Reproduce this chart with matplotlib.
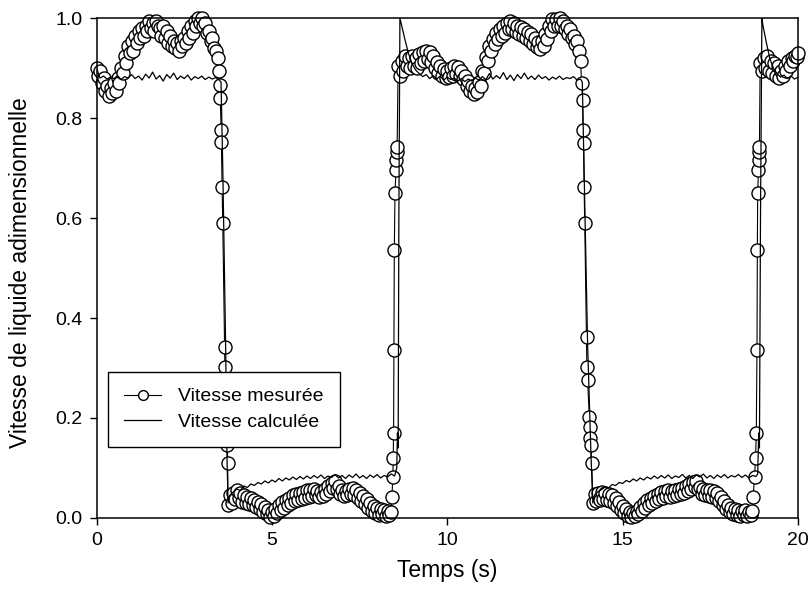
import matplotlib
matplotlib.use("Agg")
import matplotlib.pyplot as plt

plt.rcParams['font.family'] = ['Liberation Sans', 'DejaVu Sans']

# Vitesse mesurée (cercles)
t_mes = [0.00, 0.05, 0.10, 0.15, 0.20, 0.25, 0.30, 0.35, 0.40, 0.45, 0.50, 0.55, 0.60, 0.65, 0.70, 0.75,
         0.80, 0.85, 0.90, 0.95, 1.00, 1.05, 1.10, 1.15, 1.20, 1.25, 1.30, 1.35, 1.40, 1.45, 1.50, 1.55,
         1.60, 1.65, 1.70, 1.75, 1.80, 1.85, 1.90, 1.95, 2.00, 2.05, 2.10, 2.15, 2.20, 2.25, 2.30, 2.35,
         2.40, 2.45, 2.50, 2.55, 2.60, 2.65, 2.70, 2.75, 2.80, 2.85, 2.90, 2.95, 3.00, 3.05, 3.10, 3.15,
         3.20, 3.25, 3.30, 3.35, 3.40, 3.45, 3.50,
         3.52, 3.53, 3.55, 3.56, 3.58, 3.60, 3.65, 3.66, 3.68, 3.70, 3.71, 3.72, 3.73, 3.74,
         3.75, 3.80, 3.85, 3.90, 3.95, 4.00, 4.05, 4.10, 4.15, 4.20, 4.25, 4.30, 4.35, 4.40, 4.45, 4.50,
         4.55, 4.60, 4.65, 4.70, 4.75, 4.80, 4.85, 4.90, 4.95, 5.00, 5.05, 5.10, 5.15, 5.20, 5.25, 5.30,
         5.35, 5.40, 5.45, 5.50, 5.55, 5.60, 5.65, 5.70, 5.75, 5.80, 5.85, 5.90, 5.95, 6.00, 6.05, 6.10,
         6.15, 6.20, 6.25, 6.30, 6.35, 6.40, 6.45, 6.50, 6.55, 6.60, 6.65, 6.70, 6.75, 6.80, 6.85, 6.90,
         6.95, 7.00, 7.05, 7.10, 7.15, 7.20, 7.25, 7.30, 7.35, 7.40, 7.45, 7.50, 7.55, 7.60, 7.65, 7.70,
         7.75, 7.80, 7.85, 7.90, 7.95, 8.00, 8.05, 8.10, 8.15, 8.20, 8.25, 8.30, 8.35, 8.40,
         8.42, 8.45, 8.46, 8.47, 8.48, 8.49, 8.51, 8.54, 8.55, 8.56, 8.57,
         8.60, 8.65, 8.70, 8.75, 8.80, 8.85, 8.90, 8.95, 9.00, 9.05, 9.10, 9.15, 9.20, 9.25, 9.30, 9.35,
         9.40, 9.45, 9.50, 9.55, 9.60, 9.65, 9.70, 9.75, 9.80, 9.85, 9.90, 9.95, 10.00, 10.05, 10.10,
         10.15, 10.20, 10.25, 10.30, 10.35, 10.40, 10.45, 10.50, 10.55, 10.60, 10.65, 10.70, 10.75,
         10.80, 10.85, 10.90, 10.95, 11.00, 11.05, 11.10, 11.15, 11.20, 11.25, 11.30, 11.35, 11.40,
         11.45, 11.50, 11.55, 11.60, 11.65, 11.70, 11.75, 11.80, 11.85, 11.90, 11.95, 12.00, 12.05,
         12.10, 12.15, 12.20, 12.25, 12.30, 12.35, 12.40, 12.45, 12.50, 12.55, 12.60, 12.65, 12.70,
         12.75, 12.80, 12.85, 12.90, 12.95, 13.00, 13.05, 13.10, 13.15, 13.20, 13.25, 13.30, 13.35,
         13.40, 13.45, 13.50, 13.55, 13.60, 13.65, 13.70, 13.75, 13.80,
         13.83, 13.86, 13.87, 13.89, 13.90, 13.92, 13.97, 13.98, 14.00, 14.05, 14.06, 14.08, 14.09, 14.12,
         14.15, 14.20, 14.25, 14.30, 14.35, 14.40, 14.45, 14.50, 14.55, 14.60, 14.65, 14.70, 14.75,
         14.80, 14.85, 14.90, 14.95, 15.00, 15.05, 15.10, 15.15, 15.20, 15.25, 15.30, 15.35, 15.40,
         15.45, 15.50, 15.55, 15.60, 15.65, 15.70, 15.75, 15.80, 15.85, 15.90, 15.95, 16.00, 16.05,
         16.10, 16.15, 16.20, 16.25, 16.30, 16.35, 16.40, 16.45, 16.50, 16.55, 16.60, 16.65, 16.70,
         16.75, 16.80, 16.85, 16.90, 16.95, 17.00, 17.05, 17.10, 17.15, 17.20, 17.25, 17.30, 17.35,
         17.40, 17.45, 17.50, 17.55, 17.60, 17.65, 17.70, 17.75, 17.80, 17.85, 17.90, 17.95, 18.00,
         18.05, 18.10, 18.15, 18.20, 18.25, 18.30, 18.35, 18.40, 18.45, 18.50, 18.55, 18.60, 18.65, 18.70,
         18.72, 18.76, 18.79, 18.81, 18.83, 18.84, 18.85, 18.87, 18.88, 18.89, 18.90,
         18.92, 18.97, 19.02, 19.07, 19.12, 19.17, 19.22, 19.27, 19.32, 19.37, 19.42, 19.47, 19.52,
         19.57, 19.62, 19.67, 19.72, 19.77, 19.82, 19.87, 19.92, 19.97, 20.00]

v_mes = [0.900, 0.885, 0.895, 0.870, 0.880, 0.855, 0.865, 0.845, 0.860, 0.850, 0.870, 0.855, 0.880, 0.870,
         0.900, 0.890, 0.925, 0.910, 0.945, 0.930, 0.955, 0.935, 0.965, 0.950, 0.975, 0.960, 0.980, 0.965,
         0.985, 0.975, 0.995, 0.980, 0.990, 0.975, 0.995, 0.985, 0.980, 0.965, 0.985, 0.960, 0.975, 0.950,
         0.965, 0.945, 0.955, 0.940, 0.950, 0.935, 0.955, 0.945, 0.960, 0.950, 0.975, 0.960, 0.985, 0.970,
         0.995, 0.985, 1.000, 0.990, 1.000, 0.985, 0.990, 0.970, 0.975, 0.955, 0.960, 0.940, 0.935, 0.920,
         0.895,
         0.866, 0.840, 0.776, 0.752, 0.662, 0.590, 0.342, 0.302, 0.276, 0.202, 0.182, 0.160, 0.146, 0.110,
         0.025, 0.045, 0.030, 0.050, 0.038, 0.055, 0.040, 0.050, 0.032, 0.045, 0.030, 0.042, 0.028, 0.040,
         0.025, 0.036, 0.022, 0.032, 0.018, 0.028, 0.012, 0.022, 0.008, 0.016, 0.002, 0.012, 0.004, 0.018,
         0.010, 0.026, 0.016, 0.032, 0.020, 0.036, 0.026, 0.040, 0.030, 0.046, 0.034, 0.048, 0.036, 0.050,
         0.038, 0.052, 0.040, 0.055, 0.042, 0.056, 0.044, 0.058, 0.046, 0.054, 0.042, 0.052, 0.044, 0.058,
         0.048, 0.064, 0.054, 0.070, 0.060, 0.074, 0.058, 0.064, 0.048, 0.056, 0.044, 0.054, 0.046, 0.058,
         0.048, 0.060, 0.046, 0.056, 0.040, 0.050, 0.034, 0.044, 0.028, 0.038, 0.020, 0.030, 0.014, 0.024,
         0.010, 0.020, 0.006, 0.018, 0.008, 0.016, 0.004, 0.014, 0.006, 0.012,
         0.042, 0.082, 0.120, 0.170, 0.336, 0.536, 0.650, 0.696, 0.716, 0.732, 0.742,
         0.905, 0.885, 0.915, 0.895, 0.925, 0.905, 0.920, 0.900, 0.925, 0.905, 0.920, 0.900, 0.928, 0.910,
         0.932, 0.915, 0.935, 0.918, 0.932, 0.912, 0.925, 0.900, 0.912, 0.890, 0.905, 0.885, 0.898, 0.880,
         0.895, 0.882, 0.900, 0.885, 0.905, 0.888, 0.902, 0.885, 0.895, 0.878, 0.885, 0.865, 0.875, 0.855,
         0.865, 0.848, 0.860, 0.852, 0.872, 0.865, 0.895, 0.890, 0.922, 0.915, 0.945, 0.935, 0.958, 0.948,
         0.970, 0.958, 0.978, 0.965, 0.985, 0.970, 0.990, 0.978, 0.995, 0.978, 0.990, 0.972, 0.985, 0.968,
         0.982, 0.965, 0.978, 0.960, 0.972, 0.955, 0.968, 0.948, 0.960, 0.942, 0.952, 0.938, 0.955, 0.945,
         0.968, 0.958, 0.985, 0.975, 0.998, 0.985, 0.998, 0.985, 1.000, 0.985, 0.995, 0.978, 0.985, 0.968,
         0.978, 0.960, 0.965, 0.948, 0.955, 0.935, 0.915,
         0.870, 0.836, 0.776, 0.750, 0.662, 0.590, 0.362, 0.302, 0.276, 0.202, 0.182, 0.160, 0.146, 0.110,
         0.030, 0.048, 0.034, 0.050, 0.036, 0.052, 0.038, 0.050, 0.036, 0.048, 0.034, 0.045, 0.030, 0.040,
         0.024, 0.032, 0.016, 0.024, 0.010, 0.018, 0.004, 0.012, 0.002, 0.010, 0.004, 0.014, 0.008, 0.022,
         0.014, 0.030, 0.020, 0.036, 0.026, 0.040, 0.030, 0.044, 0.034, 0.048, 0.038, 0.052, 0.040, 0.054,
         0.044, 0.056, 0.042, 0.054, 0.044, 0.056, 0.046, 0.058, 0.048, 0.060, 0.050, 0.064, 0.054, 0.068,
         0.058, 0.072, 0.062, 0.074, 0.058, 0.062, 0.048, 0.058, 0.046, 0.056, 0.044, 0.056, 0.042, 0.054,
         0.040, 0.050, 0.034, 0.042, 0.026, 0.034, 0.018, 0.026, 0.012, 0.020, 0.008, 0.018, 0.006, 0.016,
         0.004, 0.014, 0.006, 0.016, 0.004, 0.012, 0.006, 0.014,
         0.042, 0.082, 0.120, 0.170, 0.336, 0.536, 0.650, 0.696, 0.716, 0.732, 0.742,
         0.910, 0.895, 0.920, 0.900, 0.925, 0.895, 0.915, 0.890, 0.910, 0.885, 0.905, 0.880, 0.895, 0.885,
         0.905, 0.895, 0.915, 0.905, 0.920, 0.915, 0.925, 0.922, 0.930]

# Vitesse calculée (trait)
t_calc = [0.0, 0.1, 0.2, 0.3, 0.4, 0.5, 0.6, 0.7, 0.8, 0.9, 1.0, 1.1, 1.2, 1.3, 1.4, 1.5, 1.6, 1.7,
          1.8, 1.9, 2.0, 2.1, 2.2, 2.3, 2.4, 2.5, 2.6, 2.7, 2.8, 2.9, 3.0, 3.1, 3.2, 3.3, 3.4, 3.5, 3.55,
          3.60, 3.68, 3.72, 3.75,
          3.8, 3.9, 4.0, 4.1, 4.2, 4.3, 4.4, 4.5, 4.6, 4.7, 4.8, 4.9, 5.0, 5.1, 5.2, 5.3, 5.4, 5.5, 5.6,
          5.7, 5.8, 5.9, 6.0, 6.1, 6.2, 6.3, 6.4, 6.5, 6.6, 6.7, 6.8, 6.9, 7.0, 7.1, 7.2, 7.3, 7.4, 7.5,
          7.6, 7.7, 7.8, 7.9, 8.0, 8.1, 8.2, 8.3, 8.4, 8.5,
          8.56, 8.58, 8.60, 8.62, 8.65, 8.7, 8.8, 8.9, 9.0, 9.1,
          9.2, 9.3, 9.4, 9.5, 9.6, 9.7, 9.8, 9.9, 10.0, 10.1, 10.2, 10.3, 10.4, 10.5, 10.6, 10.7, 10.8,
          10.9, 11.0, 11.1, 11.2, 11.3, 11.4, 11.5, 11.6, 11.7, 11.8, 11.9, 12.0, 12.1, 12.2, 12.3, 12.4,
          12.5, 12.6, 12.7, 12.8, 12.9, 13.0, 13.1, 13.2, 13.3, 13.4, 13.5, 13.6, 13.7, 13.8, 13.85,
          13.90, 14.00, 14.10, 14.15,
          14.2, 14.3, 14.4, 14.5, 14.6, 14.7, 14.8, 14.9, 15.0, 15.1, 15.2, 15.3, 15.4, 15.5, 15.6, 15.7,
          15.8, 15.9, 16.0, 16.1, 16.2, 16.3, 16.4, 16.5, 16.6, 16.7, 16.8, 16.9, 17.0, 17.1, 17.2, 17.3,
          17.4, 17.5, 17.6, 17.7, 17.8, 17.9, 18.0, 18.1, 18.2, 18.3, 18.4, 18.5, 18.6, 18.7, 18.8, 18.85,
          18.88, 18.90, 18.93, 18.97, 19.0, 19.1, 19.2, 19.3, 19.4,
          19.5, 19.6, 19.7, 19.8, 19.9, 20.0]

v_calc = [0.900, 0.880, 0.884, 0.878, 0.882, 0.879, 0.885, 0.877, 0.883, 0.880, 0.887, 0.879, 0.884,
          0.876, 0.888, 0.880, 0.892, 0.878, 0.885, 0.874, 0.887, 0.880, 0.890, 0.877, 0.884, 0.879,
          0.886, 0.876, 0.883, 0.879, 0.884, 0.877, 0.882, 0.878, 0.881, 0.876, 0.872,
          0.700, 0.350, 0.120, 0.030,
          0.045, 0.052, 0.058, 0.055, 0.064, 0.061, 0.068, 0.065, 0.071, 0.068, 0.074, 0.070, 0.076,
          0.072, 0.079, 0.074, 0.080, 0.076, 0.082, 0.077, 0.083, 0.078, 0.084, 0.079, 0.085, 0.080,
          0.086, 0.079, 0.084, 0.081, 0.087, 0.080, 0.085, 0.079, 0.086, 0.081, 0.088, 0.080, 0.085,
          0.079, 0.086, 0.081, 0.087, 0.080, 0.085, 0.082, 0.088, 0.084,
          0.100, 0.170, 0.140, 0.600, 1.000, 0.985, 0.955, 0.928, 0.908, 0.896,
          0.889, 0.883, 0.887, 0.879, 0.885, 0.878, 0.884, 0.876, 0.882, 0.877, 0.880, 0.874, 0.879,
          0.873, 0.878, 0.874, 0.880, 0.876, 0.883, 0.877, 0.889, 0.878, 0.885, 0.879, 0.891, 0.877,
          0.886, 0.875, 0.887, 0.879, 0.890, 0.878, 0.884, 0.877, 0.886, 0.879, 0.883, 0.876, 0.882,
          0.878, 0.884, 0.877, 0.881, 0.879, 0.883, 0.876, 0.878, 0.872,
          0.700, 0.350, 0.120, 0.030,
          0.046, 0.053, 0.057, 0.062, 0.060, 0.067, 0.065, 0.071, 0.069, 0.075, 0.072, 0.078, 0.074,
          0.080, 0.076, 0.082, 0.078, 0.084, 0.079, 0.085, 0.080, 0.086, 0.079, 0.084, 0.081, 0.087,
          0.080, 0.085, 0.079, 0.086, 0.082, 0.088, 0.080, 0.085, 0.079, 0.086, 0.081, 0.087, 0.080,
          0.085, 0.082, 0.087, 0.081, 0.086, 0.080, 0.085, 0.083, 0.088,
          0.170, 0.140, 0.600, 1.000, 0.985, 0.950, 0.918, 0.900, 0.889,
          0.882, 0.886, 0.879, 0.884, 0.878, 0.882]

x_ticks = [0, 5, 10, 15, 20]
y_ticks = [0.0, 0.2, 0.4, 0.6, 0.8, 1.0]

fig = plt.figure(figsize=(8.11, 6.03), dpi=100)
ax = fig.add_axes([0.119, 0.141, 0.865, 0.829])

ax.plot(t_mes, v_mes, '-o', color='black', linewidth=0.8, markersize=9.4,
        markerfacecolor='white', markeredgecolor='black', markeredgewidth=1.0,
        clip_on=False, zorder=2, label='Vitesse mesurée')
ax.plot(t_calc, v_calc, '-', color='black', linewidth=0.9, zorder=3, label='Vitesse calculée')

ax.set_xlim(0, 20)
ax.set_ylim(0, 1.0)
ax.set_xticks(x_ticks)
ax.set_yticks(y_ticks)
ax.set_xticklabels([str(x) for x in x_ticks])
ax.set_yticklabels([f"{y:.1f}" for y in y_ticks])
ax.tick_params(direction='out', length=5, width=1, labelsize=14, pad=5)
for s in ax.spines.values():
    s.set_linewidth(1.1)

ax.set_xlabel('Temps (s)', fontsize=16.5)
ax.set_ylabel('Vitesse de liquide adimensionnelle', fontsize=16.5)
ax.xaxis.set_label_coords(0.5, -0.082)
ax.yaxis.set_label_coords(-0.092, 0.49)

leg = ax.legend(loc='lower left', bbox_to_anchor=(0.0164, 0.142), borderaxespad=0,
                fontsize=14, fancybox=False, edgecolor='black', framealpha=1,
                handlelength=1.9, handletextpad=0.85, labelspacing=0.39, borderpad=0.84,
                markerscale=0.75)
leg.get_frame().set_linewidth(1.0)
leg.set_zorder(5)

fig.savefig('out.png', dpi=100)
